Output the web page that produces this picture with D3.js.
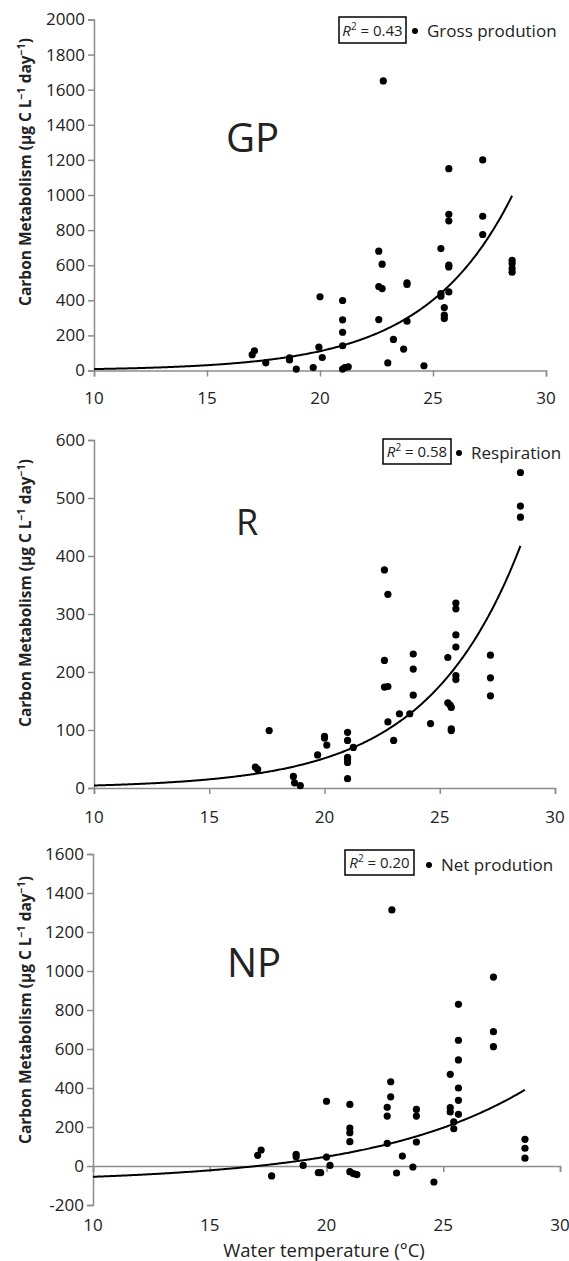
<!DOCTYPE html>
<html>
<head>
<meta charset="utf-8">
<script src="https://cdn.jsdelivr.net/npm/d3@7"></script>
<style>
  body { margin: 0; background: #fff; }
  svg text { font-family: "Open Sans", sans-serif; fill: #222; }
</style>
</head>
<body>
<div id="container"></div>
<script>
// data

const xTicks = [10, 15, 20, 25, 30];

// gross production
const gpTemp = [17.0, 17.1, 17.6, 18.65, 18.65, 18.95, 19.7, 19.95, 20.0, 20.1,
  21.0, 21.0, 21.0, 21.0, 21.0, 21.1, 21.25, 22.6, 22.75, 22.6, 22.75, 22.6, 22.8,
  23.0, 23.25, 23.7, 23.85, 23.85, 23.85, 24.6, 25.35, 25.35, 25.35, 25.5, 25.5, 25.5,
  25.7, 25.7, 25.7, 25.7, 25.7, 25.7, 27.2, 27.2, 27.2, 28.5, 28.5, 28.5, 28.5];
const gpValue = [90, 112, 44, 72, 60, 8, 17, 133, 420, 74,
  399, 289, 218, 141, 8, 17, 21, 680, 606, 478, 467, 290, 1650,
  43, 177, 122, 490, 500, 281, 27, 695, 438, 423, 359, 315, 296,
  1150, 890, 853, 600, 590, 448, 1200, 879, 775, 628, 609, 581, 560];
const gpTicks = [0, 200, 400, 600, 800, 1000, 1200, 1400, 1600, 1800, 2000];
const gpTrend = [0.62, 0.259, 0]; // a*exp(b*T)+c
const gpR2 = "0.43";

// respiration
const rTemp = [17.0, 17.1, 17.6, 18.65, 18.7, 18.95, 19.7, 20.0, 20.0, 20.1,
  21.0, 21.0, 21.0, 21.0, 21.0, 21.0, 21.25, 22.6, 22.75, 22.6, 22.6, 22.75, 22.75,
  23.0, 23.25, 23.7, 23.85, 23.85, 23.85, 24.6, 25.35, 25.35, 25.45, 25.5, 25.5, 25.5,
  25.7, 25.7, 25.7, 25.7, 25.7, 25.7, 27.2, 27.2, 27.2, 28.5, 28.5, 28.5];
const rValue = [36, 32, 99, 20, 9, 4, 57, 89, 86, 74,
  96, 82, 53, 49, 44, 16, 70, 376, 334, 220, 174, 175, 114,
  82, 128, 128, 231, 205, 160, 111, 225, 147, 143, 139, 102, 99,
  319, 309, 264, 243, 194, 187, 229, 190, 159, 544, 486, 467];
const rTicks = [0, 100, 200, 300, 400, 500, 600];
const rTrend = [0.37, 0.2466, 0];
const rR2 = "0.58";

// net production
const npTemp = [17.05, 17.2, 17.65, 18.7, 18.7, 19.0, 19.65, 19.75, 20.0, 20.0, 20.15,
  21.0, 21.0, 21.0, 21.0, 21.0, 21.15, 21.3, 22.8, 22.75, 22.75, 22.6, 22.6, 22.6,
  23.0, 23.25, 23.7, 23.85, 23.85, 23.85, 24.6, 25.3, 25.3, 25.3, 25.45, 25.45,
  25.65, 25.65, 25.65, 25.65, 25.65, 25.65, 27.15, 27.15, 27.15, 28.5, 28.5, 28.5];
const npValue = [55, 82, -51, 60, 48, 3, -34, -34, 332, 46, 3,
  316, 195, 171, 125, -29, -39, -44, 1313, 432, 355, 301, 256, 116,
  -36, 51, -5, 290, 256, 123, -82, 470, 299, 277, 226, 191,
  829, 645, 544, 400, 337, 265, 969, 689, 612, 137, 91, 40];
const npTicks = [-200, 0, 200, 400, 600, 800, 1000, 1200, 1400, 1600];
const npTrend = [6.62, 0.15, -85];
const npR2 = "0.20";

// layout

const width = 569;
const height = 1261;

const panels = [
  { name: "GP", legend: "Gross prodution", r2: gpR2, temp: gpTemp, value: gpValue, ticks: gpTicks, trend: gpTrend,
    left: 94, right: 546, top: 19.5, bottom: 370.5, labelY: 404,
    nameX: 226, nameY: 152, nameSize: 40,
    box: [339, 17, 67, 26], legendX: 415, legendY: 37, titleY: 172 },
  { name: "R", legend: "Respiration", r2: rR2, temp: rTemp, value: rValue, ticks: rTicks, trend: rTrend,
    left: 94, right: 555, top: 440, bottom: 788, labelY: 823,
    nameX: 236, nameY: 535, nameSize: 36,
    box: [383, 439, 68, 25], legendX: 459, legendY: 459, titleY: 593 },
  { name: "NP", legend: "Net prodution", r2: npR2, temp: npTemp, value: npValue, ticks: npTicks, trend: npTrend,
    left: 93, right: 560, top: 854, bottom: 1205, labelY: 1231,
    nameX: 227, nameY: 977, nameSize: 40,
    box: [345, 850, 69, 25], legendX: 429, legendY: 871, titleY: 1010 }
];

const svg = d3.select("#container")
  .append("svg")
  .attr("width", width)
  .attr("height", height);

panels.forEach(p => {
  const xScale = d3.scaleLinear().domain([10, 30]).range([p.left, p.right]);
  const yScale = d3.scaleLinear()
    .domain([p.ticks[0], p.ticks[p.ticks.length - 1]])
    .range([p.bottom, p.top]);

  const g = svg.append("g");

  // y axis
  g.append("g")
    .attr("transform", `translate(${p.left},0)`)
    .call(d3.axisLeft(yScale).tickValues(p.ticks).tickSize(6).tickPadding(3).tickFormat(d => String(d)))
    .call(a => a.selectAll("path, line").attr("stroke", "#8c8c8c").attr("stroke-width", 1.5))
    .call(a => a.selectAll("text").attr("font-size", 17).attr("font-family", "Open Sans").attr("fill", "#222"));

  // x axis line sits at value 0
  const zeroY = yScale(0);
  g.append("g")
    .attr("transform", `translate(0,${zeroY})`)
    .call(d3.axisBottom(xScale).tickValues(xTicks).tickSize(6).tickFormat(""))
    .call(a => a.selectAll("path, line").attr("stroke", "#8c8c8c").attr("stroke-width", 1.5));

  // x tick labels
  g.selectAll(".xlab")
    .data(xTicks)
    .join("text")
    .attr("x", d => xScale(d))
    .attr("y", p.labelY)
    .attr("text-anchor", "middle")
    .attr("font-size", 17)
    .text(d => d);

  // trend line
  const trendPts = d3.range(10, 28.55, 0.05);
  const f = t => p.trend[0] * Math.exp(p.trend[1] * t) + p.trend[2];
  g.append("path")
    .datum(trendPts)
    .attr("fill", "none")
    .attr("stroke", "#000")
    .attr("stroke-width", 2)
    .attr("d", d3.line().x(t => xScale(t)).y(t => yScale(f(t))));

  // points
  g.selectAll("circle")
    .data(p.temp.map((t, i) => ({ t, v: p.value[i] })))
    .join("circle")
    .attr("cx", d => xScale(d.t))
    .attr("cy", d => yScale(d.v))
    .attr("r", 3.6)
    .attr("fill", "#000");

  // panel name
  g.append("text")
    .attr("x", p.nameX)
    .attr("y", p.nameY)
    .attr("font-size", p.nameSize)
    .text(p.name);

  // R2 box
  g.append("rect")
    .attr("x", p.box[0]).attr("y", p.box[1])
    .attr("width", p.box[2]).attr("height", p.box[3])
    .attr("fill", "#fff").attr("stroke", "#000").attr("stroke-width", 1.5);
  const r2 = g.append("text")
    .attr("x", p.box[0] + p.box[2] / 2)
    .attr("y", p.box[1] + p.box[3] / 2 + 5.5)
    .attr("text-anchor", "middle")
    .attr("font-size", 15);
  r2.append("tspan").attr("font-style", "italic").text("R");
  r2.append("tspan").attr("font-size", 10).attr("dy", -6).text("2");
  r2.append("tspan").attr("dy", 6).text(" = " + p.r2);

  // legend
  g.append("circle")
    .attr("cx", p.legendX).attr("cy", p.legendY - 6).attr("r", 3).attr("fill", "#000");
  g.append("text")
    .attr("x", p.legendX + 12)
    .attr("y", p.legendY)
    .attr("font-size", 17)
    .text(p.legend);

  // y axis title
  const title = g.append("text")
    .attr("transform", `translate(31,${p.titleY}) rotate(-90)`)
    .attr("text-anchor", "middle")
    .attr("font-size", 15.5)
    .attr("font-weight", "bold");
  title.append("tspan").text("Carbon Metabolism (µg C L");
  title.append("tspan").attr("font-size", 10.5).attr("dy", -6).text("−1");
  title.append("tspan").attr("dy", 6).text(" day");
  title.append("tspan").attr("font-size", 10.5).attr("dy", -6).text("−1");
  title.append("tspan").attr("dy", 6).text(")");
});

svg.append("text")
  .attr("x", 324)
  .attr("y", 1257)
  .attr("text-anchor", "middle")
  .attr("font-size", 18.5)
  .text("Water temperature (°C)");
</script>
</body>
</html>
